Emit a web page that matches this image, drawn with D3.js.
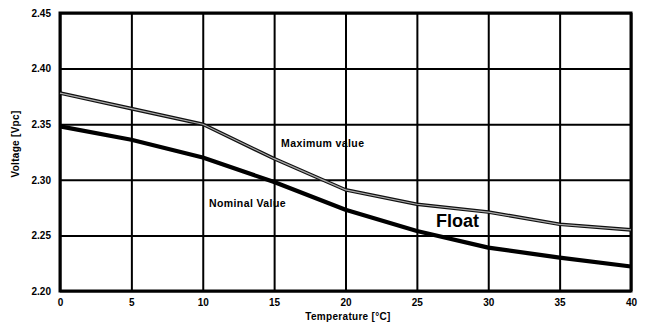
<!DOCTYPE html>
<html>
<head>
<meta charset="utf-8">
<script src="https://cdn.jsdelivr.net/npm/d3@7/dist/d3.min.js"></script>
<style>
  html, body { margin: 0; padding: 0; background: #fff; }
  svg { display: block; font-family: "Liberation Sans", Arial, sans-serif; }
</style>
</head>
<body>
<svg id="chart" width="645" height="327"></svg>
<script>
// Float charge voltage per cell vs. temperature
const temperatures = [0, 5, 10, 15, 20, 25, 30, 35, 40];
const maximumValue = [2.378, 2.364, 2.350, 2.319, 2.291, 2.278, 2.271, 2.260, 2.255];
const nominalValue = [2.348, 2.336, 2.320, 2.298, 2.273, 2.254, 2.239, 2.230, 2.222];
const xTicks = [0, 5, 10, 15, 20, 25, 30, 35, 40];
const yTicks = [2.20, 2.25, 2.30, 2.35, 2.40, 2.45];

const svg = d3.select("#chart");
const margin = { left: 60, right: 14, top: 13, bottom: 36 };
const W = 645, H = 327;
const x = d3.scaleLinear().domain([0, 40]).range([margin.left, W - margin.right]);
const y = d3.scaleLinear().domain([2.20, 2.45]).range([H - margin.bottom, margin.top]);

// grid + tick labels
const xAxis = svg.append("g")
  .attr("transform", `translate(0,${y(2.20)})`)
  .call(d3.axisBottom(x).tickValues(xTicks).tickSize(-(y(2.20) - y(2.45))).tickPadding(8).tickFormat(d3.format("d")));
const yAxis = svg.append("g")
  .attr("transform", `translate(${x(0)},0)`)
  .call(d3.axisLeft(y).tickValues(yTicks).tickSize(-(x(40) - x(0))).tickPadding(9).tickFormat(d3.format(".2f")));

[xAxis, yAxis].forEach(g => {
  g.select(".domain").remove();
  g.selectAll(".tick line").attr("stroke", "#000").attr("stroke-width", 2);
  g.selectAll(".tick text")
    .attr("fill", "#000")
    .attr("font-size", 10)
    .attr("font-weight", "bold")
    .attr("font-family", "'Liberation Sans', Arial, sans-serif");
});

// frame
svg.append("rect")
  .attr("x", x(0)).attr("y", y(2.45))
  .attr("width", x(40) - x(0)).attr("height", y(2.20) - y(2.45))
  .attr("fill", "none").attr("stroke", "#000").attr("stroke-width", 3);

const line = d3.line().x((d, i) => x(temperatures[i])).y(d => y(d));

// maximum value: outlined line
svg.append("path").datum(maximumValue)
  .attr("d", line).attr("fill", "none")
  .attr("stroke", "#111").attr("stroke-width", 3.6);
svg.append("path").datum(maximumValue)
  .attr("d", line).attr("fill", "none")
  .attr("stroke", "#aaa").attr("stroke-width", 1.2);

// nominal value: heavy line
svg.append("path").datum(nominalValue)
  .attr("d", line).attr("fill", "none")
  .attr("stroke", "#000").attr("stroke-width", 4.2)
  .attr("stroke-linejoin", "round");

// annotations
svg.append("text").attr("x", 281).attr("y", 147)
  .attr("font-size", 10.5).attr("font-weight", "bold").attr("letter-spacing", 0.4)
  .text("Maximum value");
svg.append("text").attr("x", 209).attr("y", 207)
  .attr("font-size", 10.5).attr("font-weight", "bold").attr("letter-spacing", 0.4)
  .text("Nominal Value");
svg.append("text").attr("x", 436).attr("y", 227)
  .attr("font-size", 18).attr("font-weight", "bold")
  .text("Float");

// axis titles
svg.append("text")
  .attr("transform", `translate(19,${(y(2.20) + y(2.45)) / 2 - 8}) rotate(-90)`)
  .attr("text-anchor", "middle")
  .attr("font-size", 10).attr("font-weight", "bold").attr("letter-spacing", 0.3)
  .text("Voltage [Vpc]");
svg.append("text")
  .attr("x", 348).attr("y", 320)
  .attr("text-anchor", "middle")
  .attr("font-size", 10).attr("font-weight", "bold").attr("letter-spacing", 0.3)
  .text("Temperature [°C]");
</script>
</body>
</html>
